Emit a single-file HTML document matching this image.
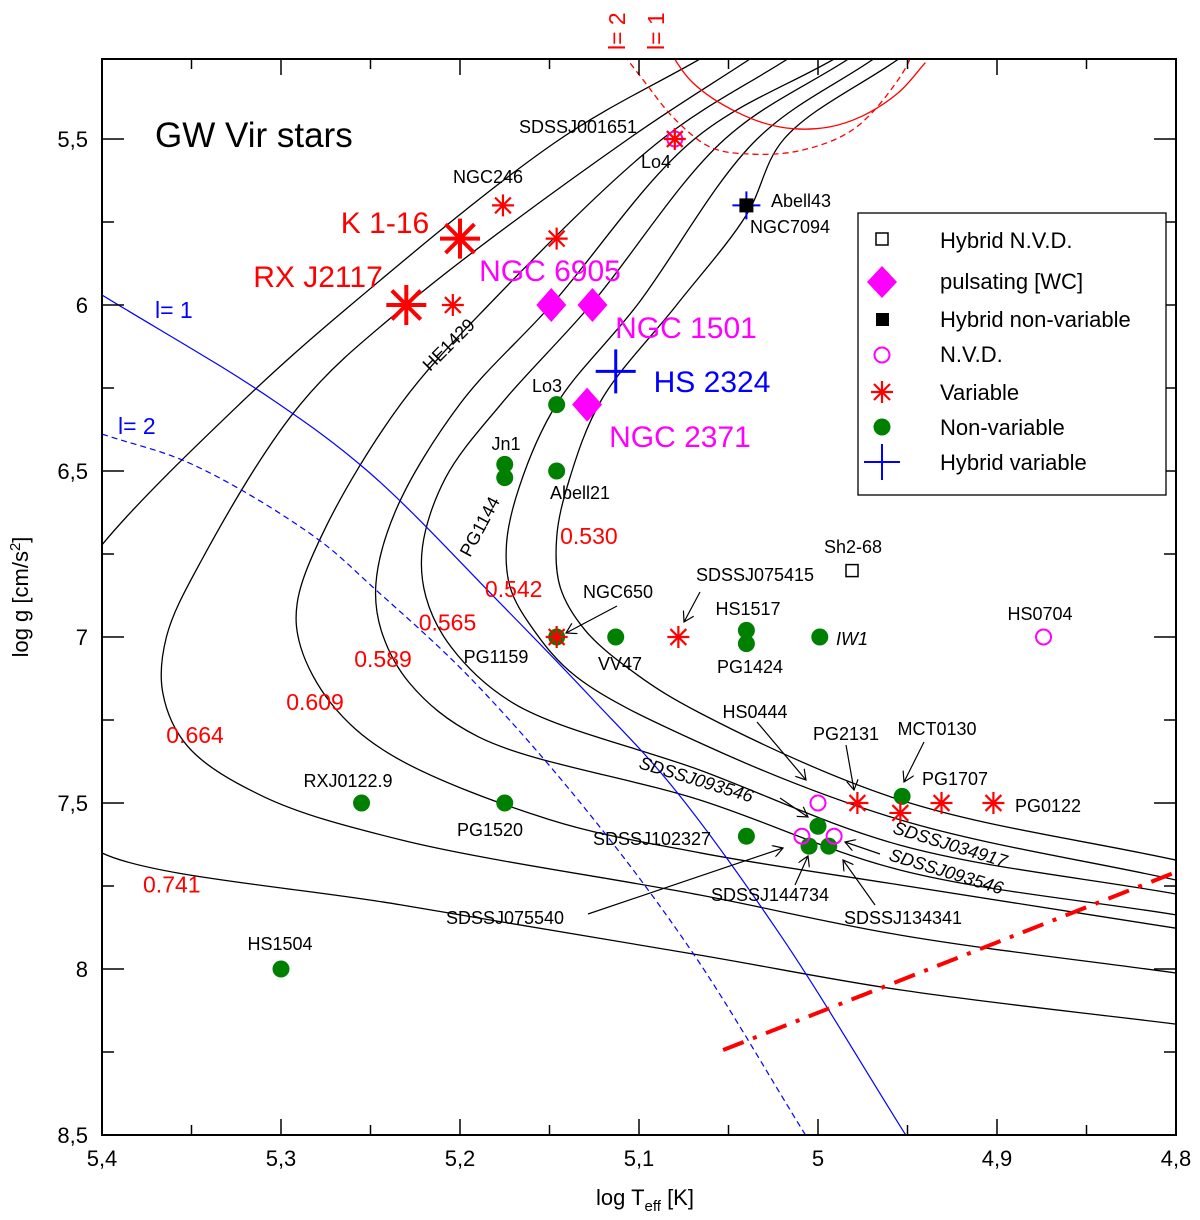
<!DOCTYPE html>
<html><head><meta charset="utf-8"><style>
html,body{margin:0;padding:0;background:#fff;}
svg{display:block;font-family:"Liberation Sans",Arial,sans-serif;}
</style></head><body>
<svg id="chart" width="1200" height="1220" viewBox="0 0 1200 1220" xmlns="http://www.w3.org/2000/svg">
<defs>
<clipPath id="plotclip"><rect x="102" y="59" width="1074" height="1076"/></clipPath>
</defs>
<g id="tracks" clip-path="url(#plotclip)"></g>
<g id="marks"></g>
<g id="axes"></g>
</svg>
<script>
// ---- data ----
const xTicks = [5.4, 5.3, 5.2, 5.1, 5.0, 4.9, 4.8];
const xTickLabels = ["5,4", "5,3", "5,2", "5,1", "5", "4,9", "4,8"];
const yTicks = [5.5, 6.0, 6.5, 7.0, 7.5, 8.0, 8.5];
const yTickLabels = ["5,5", "6", "6,5", "7", "7,5", "8", "8,5"];

const trackMasses = ["0.530", "0.542", "0.565", "0.589", "0.609", "0.664", "0.741"];
const track530 = [[4.955,5.259],[5.019,5.5],[5.040,5.729],[5.079,6.0],[5.121,6.286],[5.139,6.527],[5.146,6.70],[5.144,6.85],[5.130,6.98],[5.101,7.114],[5.066,7.229],[4.954,7.491],[4.8,7.672]];
const track542 = [[4.969,5.259],[5.034,5.5],[5.101,6.0],[5.146,6.298],[5.167,6.55],[5.174,6.72],[5.172,6.85],[5.160,6.97],[5.135,7.12],[5.066,7.319],[4.954,7.551],[4.8,7.732]];
const track565 = [[4.983,5.259],[5.052,5.5],[5.127,6.0],[5.177,6.298],[5.208,6.52],[5.221,6.73],[5.219,6.88],[5.205,7.03],[5.17,7.2],[5.066,7.401],[4.954,7.627],[4.8,7.774]];
const track589 = [[4.991,5.259],[5.069,5.5],[5.149,6.0],[5.200,6.298],[5.236,6.62],[5.247,6.84],[5.244,6.98],[5.228,7.14],[5.19,7.3],[5.066,7.491],[4.954,7.702],[4.8,7.837]];
const track609 = [[5.017,5.259],[5.087,5.5],[5.184,6.0],[5.233,6.298],[5.276,6.68],[5.291,6.90],[5.289,7.03],[5.272,7.20],[5.24,7.35],[5.15,7.55],[5.066,7.65],[4.954,7.747],[4.8,7.877]];
const track664 = [[5.038,5.259],[5.106,5.5],[5.230,6.0],[5.289,6.298],[5.344,6.765],[5.364,7.0],[5.366,7.17],[5.352,7.33],[5.31,7.48],[5.233,7.611],[5.066,7.777],[4.954,7.898],[4.8,8.012]];
const track741 = [[5.066,5.259],[5.144,5.5],[5.261,6.0],[5.323,6.298],[5.401,6.729],[5.435,7.0],[5.44,7.3],[5.42,7.55],[5.401,7.648],[5.233,7.807],[5.066,7.958],[4.954,8.063],[4.8,8.166]];
const trackLabelPos = [[5.128,6.72],[5.17,6.88],[5.207,6.98],[5.243,7.09],[5.281,7.22],[5.348,7.32],[5.361,7.77]];

const blueL1 = [[5.4,5.970],[5.307,6.277],[5.251,6.503],[5.176,6.907],[5.127,7.181],[5.082,7.446],[5.021,7.898],[4.951,8.5]];
const blueL2 = [[5.4,6.389],[5.350,6.479],[5.281,6.699],[5.247,6.858],[5.196,7.114],[5.134,7.491],[5.071,7.943],[5.007,8.5]];
const redL1 = [[5.085,5.22],[5.07,5.33],[5.045,5.42],[5.02,5.465],[4.995,5.465],[4.975,5.43],[4.955,5.36],[4.94,5.27]];
const redL2 = [[5.115,5.2],[5.098,5.32],[5.08,5.44],[5.06,5.525],[5.04,5.545],[5.01,5.535],[4.98,5.47],[4.955,5.32],[4.945,5.22]];
const blueEdge = [[5.053,8.244],[4.8,7.708]];

const variableT = [5.176, 5.146, 5.204, 5.146, 5.078, 4.978, 4.954, 4.931, 4.902, 5.08];
const variableG = [5.70, 5.80, 6.00, 7.00, 7.00, 7.50, 7.53, 7.50, 7.50, 5.50];
const bigVarT = [5.200, 5.230];
const bigVarG = [5.80, 6.00];
const wcT = [5.149, 5.126, 5.129];
const wcG = [6.00, 6.00, 6.30];
const hybVarT = [5.113];
const hybVarG = [6.20];
const hybNonT = [5.04];
const hybNonG = [5.70];
const nonVarT = [5.146, 5.175, 5.175, 5.146, 5.146, 5.113, 5.040, 5.040, 4.999, 5.255, 5.175, 5.300, 5.040, 5.000, 5.005, 4.994, 4.953];
const nonVarG = [6.30, 6.48, 6.52, 6.50, 7.00, 7.00, 6.98, 7.02, 7.00, 7.50, 7.50, 8.00, 7.60, 7.57, 7.63, 7.63, 7.48];
const nvdT = [5.08, 5.000, 5.009, 4.991, 4.874];
const nvdG = [5.50, 7.50, 7.60, 7.60, 7.00];
const hybNvdT = [4.981];
const hybNvdG = [6.80];

// ---- scales ----
const X0 = 102, X1 = 1176, Y0 = 59, Y1 = 1135;
function xs(t){ return X0 + (5.4 - t) / 0.6 * (X1 - X0); }
function ys(g){ return 139 + (g - 5.5) * 332; }

const NS = "http://www.w3.org/2000/svg";
function mk(tag, attrs, parent){
  const e = document.createElementNS(NS, tag);
  for (const k in attrs) e.setAttribute(k, attrs[k]);
  parent.appendChild(e);
  return e;
}
function smoothPath(pts){
  const p = pts.map(d => [xs(d[0]), ys(d[1])]);
  const n = p.length;
  const ext = [[2*p[0][0]-p[1][0], 2*p[0][1]-p[1][1]]].concat(p, [[2*p[n-1][0]-p[n-2][0], 2*p[n-1][1]-p[n-2][1]]]);
  const dist = (a,b) => Math.max(Math.sqrt(Math.hypot(a[0]-b[0], a[1]-b[1])), 1e-3);
  let s = "M" + p[0][0].toFixed(1) + "," + p[0][1].toFixed(1);
  for (let i = 1; i < ext.length - 2; i++){
    const P0 = ext[i-1], P1 = ext[i], P2 = ext[i+1], P3 = ext[i+2];
    const d1 = dist(P0,P1), d2 = dist(P1,P2), d3 = dist(P2,P3);
    const b1 = [0,1].map(k => (d1*d1*P2[k] - d2*d2*P0[k] + (2*d1*d1 + 3*d1*d2 + d2*d2)*P1[k]) / (3*d1*(d1+d2)));
    const b2 = [0,1].map(k => (d3*d3*P1[k] - d2*d2*P3[k] + (2*d3*d3 + 3*d3*d2 + d2*d2)*P2[k]) / (3*d3*(d3+d2)));
    s += " C" + b1[0].toFixed(1) + "," + b1[1].toFixed(1) + " " + b2[0].toFixed(1) + "," + b2[1].toFixed(1) + " " + P2[0].toFixed(1) + "," + P2[1].toFixed(1);
  }
  return s;
}

const gT = document.getElementById("tracks");
const tracks = [track530, track542, track565, track589, track609, track664, track741];
tracks.forEach((tr, i) => {
  const p = mk("path", {d: smoothPath(tr), fill: "none", stroke: "#000", "stroke-width": 1.3}, gT);
  
  
});
let e;
e = mk("path", {d: smoothPath(blueL1), fill: "none", stroke: "#0000ff", "stroke-width": 1.2}, gT);


e = mk("path", {d: smoothPath(blueL2), fill: "none", stroke: "#0000ff", "stroke-width": 1.2, "stroke-dasharray": "6,4"}, gT);


e = mk("path", {d: smoothPath(redL1), fill: "none", stroke: "#ff0000", "stroke-width": 1.3}, gT);


e = mk("path", {d: smoothPath(redL2), fill: "none", stroke: "#ff0000", "stroke-width": 1.3, "stroke-dasharray": "6,4"}, gT);


e = mk("line", {x1: xs(blueEdge[0][0]), y1: ys(blueEdge[0][1]), x2: xs(blueEdge[1][0]), y2: ys(blueEdge[1][1]), stroke: "#ff0000", "stroke-width": 4, "stroke-dasharray": "22,10,4,10"}, gT);



trackLabelPos.forEach((p, i) => {
  const t = mk("text", {x: xs(p[0]), y: ys(p[1]), "text-anchor": "middle", "font-size": 23, fill: "#ff0000"}, gT);
  t.textContent = trackMasses[i];
  
  
});

// ---- markers ----
const gM = document.getElementById("marks");
function asterisk(x, y, r, w, parent){
  const g = mk("g", {stroke: "#ff0000", "stroke-width": w}, parent);
  mk("line", {x1: x-r, y1: y, x2: x+r, y2: y}, g);
  mk("line", {x1: x, y1: y-r, x2: x, y2: y+r}, g);
  const d = r*0.72;
  mk("line", {x1: x-d, y1: y-d, x2: x+d, y2: y+d}, g);
  mk("line", {x1: x-d, y1: y+d, x2: x+d, y2: y-d}, g);
  return g;
}
nonVarT.forEach((t, i) => {
  const c = mk("circle", {cx: xs(t), cy: ys(nonVarG[i]), r: 8.5, fill: "#008000"}, gM);
  
  
});
nvdT.forEach((t, i) => {
  const c = mk("circle", {cx: xs(t), cy: ys(nvdG[i]), r: 7.5, fill: "none", stroke: "#ff00ff", "stroke-width": 2}, gM);
  
  
});
variableT.forEach((t, i) => {
  const g = asterisk(xs(t), ys(variableG[i]), 11, 2.2, gM);
  
  
});
bigVarT.forEach((t, i) => {
  const g = asterisk(xs(t), ys(bigVarG[i]), 20, 4, gM);
  
  
});
wcT.forEach((t, i) => {
  const x = xs(t), y = ys(wcG[i]);
  const p = mk("polygon", {points: `${x},${y-17} ${x+15},${y} ${x},${y+17} ${x-15},${y}`, fill: "#ff00ff"}, gM);
  
  
});
hybNonT.forEach((t, i) => {
  const x = xs(t), y = ys(hybNonG[i]);
  const g = mk("g", {}, gM);
  mk("line", {x1: x-14, y1: y, x2: x+14, y2: y, stroke: "#0000ff", "stroke-width": 2}, g);
  mk("line", {x1: x, y1: y-14, x2: x, y2: y+14, stroke: "#0000ff", "stroke-width": 2}, g);
  mk("rect", {x: x-7, y: y-7, width: 14, height: 14, fill: "#000"}, g);
  
  
});
hybVarT.forEach((t, i) => {
  const x = xs(t), y = ys(hybVarG[i]);
  const g = mk("g", {stroke: "#0000ff", "stroke-width": 3}, gM);
  mk("line", {x1: x-20, y1: y, x2: x+20, y2: y}, g);
  mk("line", {x1: x, y1: y-22, x2: x, y2: y+22}, g);
  
  
});
hybNvdT.forEach((t, i) => {
  const x = xs(t), y = ys(hybNvdG[i]);
  const r = mk("rect", {x: x-6, y: y-6, width: 12, height: 12, fill: "none", stroke: "#000", "stroke-width": 1.5}, gM);
  
  
});

// ---- axes ----
const gA = document.getElementById("axes");
e = mk("rect", {x: X0, y: Y0, width: X1-X0, height: Y1-Y0, fill: "none", stroke: "#000", "stroke-width": 2}, gA);


for (let t = 5.4; t >= 4.79; t -= 0.05){
  const x = xs(t); const major = Math.abs(Math.round(t*10) - t*10) < 0.01;
  const L = major ? 16 : 10;
  mk("line", {x1: x, y1: Y1, x2: x, y2: Y1-L, stroke: "#000", "stroke-width": 1.5}, gA);
  mk("line", {x1: x, y1: Y0, x2: x, y2: Y0+L, stroke: "#000", "stroke-width": 1.5}, gA);
}
for (let g = 5.25; g <= 8.51; g += 0.25){
  const y = ys(g); if (y < Y0) continue;
  const major = Math.abs(g*2 - Math.round(g*2)) < 0.01;
  const L = major ? 22 : 12;
  mk("line", {x1: X0, y1: y, x2: X0+L, y2: y, stroke: "#000", "stroke-width": 1.5}, gA);
  mk("line", {x1: X1, y1: y, x2: X1-L, y2: y, stroke: "#000", "stroke-width": 1.5}, gA);
}
xTicks.forEach((t, i) => {
  const tx = mk("text", {x: xs(t), y: 1166, "text-anchor": "middle", "font-size": 22}, gA);
  tx.textContent = xTickLabels[i];
  
  
});
yTicks.forEach((g, i) => {
  const tx = mk("text", {x: 88, y: ys(g)+8, "text-anchor": "end", "font-size": 22}, gA);
  tx.textContent = yTickLabels[i];
  
  
});
</script>
<svg style="position:absolute;left:0;top:0" width="1200" height="1220" viewBox="0 0 1200 1220" xmlns="http://www.w3.org/2000/svg" font-family="Liberation Sans, Arial, sans-serif">
<defs><marker id="arr2" markerWidth="12" markerHeight="12" refX="10" refY="6" orient="auto" markerUnits="userSpaceOnUse"><path d="M0,0 L10,6 L0,12" fill="none" stroke="#000" stroke-width="1.2"/></marker></defs>
<g>
<text x="645" y="1205" text-anchor="middle" font-size="22">log T<tspan font-size="15" dy="6">eff</tspan><tspan dy="-6"> [K]</tspan></text>
<text transform="translate(28,597) rotate(-90)" text-anchor="middle" font-size="22">log g [cm/s<tspan font-size="15" dy="-8">2</tspan><tspan dy="8">]</tspan></text>
<text x="155" y="147" font-size="35">GW Vir stars</text>
<text transform="translate(625,50) rotate(-90)" font-size="23" fill="#ff0000">l= 2</text>
<text transform="translate(664,50) rotate(-90)" font-size="23" fill="#ff0000">l= 1</text>
<text x="155" y="318" font-size="23" fill="#0000ff">l= 1</text>
<text x="118" y="434" font-size="23" fill="#0000ff">l= 2</text>
</g>
<g font-size="18">
<text x="578" y="133" text-anchor="middle">SDSSJ001651</text>
<text x="656" y="168" text-anchor="middle">Lo4</text>
<text x="488" y="183" text-anchor="middle">NGC246</text>
<text x="385" y="233" text-anchor="middle" font-size="30" fill="#ff0000">K 1-16</text>
<text x="318" y="287" text-anchor="middle" font-size="30" fill="#ff0000">RX J2117</text>
<text x="550" y="281" text-anchor="middle" font-size="30" fill="#ff00ff">NGC 6905</text>
<text x="686" y="338" text-anchor="middle" font-size="30" fill="#ff00ff">NGC 1501</text>
<text x="712" y="392" text-anchor="middle" font-size="30" fill="#0000ff">HS 2324</text>
<text x="680" y="447" text-anchor="middle" font-size="30" fill="#ff00ff">NGC 2371</text>
<text transform="translate(430,372) rotate(-45)">HE1429</text>
<text x="771" y="207">Abell43</text>
<text x="750" y="233">NGC7094</text>
<text x="547" y="392" text-anchor="middle">Lo3</text>
<text x="506" y="450" text-anchor="middle">Jn1</text>
<text x="580" y="499" text-anchor="middle">Abell21</text>
<text transform="translate(470,558) rotate(-62)">PG1144</text>
<text x="853" y="553" text-anchor="middle">Sh2-68</text>
<text x="755" y="581" text-anchor="middle">SDSSJ075415</text>
<text x="618" y="598" text-anchor="middle">NGC650</text>
<text x="748" y="615" text-anchor="middle">HS1517</text>
<text x="1040" y="620" text-anchor="middle">HS0704</text>
<text x="496" y="663" text-anchor="middle">PG1159</text>
<text x="620" y="670" text-anchor="middle">VV47</text>
<text x="750" y="673" text-anchor="middle">PG1424</text>
<text x="836" y="645" font-style="italic">IW1</text>
<text x="755" y="718" text-anchor="middle">HS0444</text>
<text x="846" y="740" text-anchor="middle">PG2131</text>
<text x="937" y="735" text-anchor="middle">MCT0130</text>
<text x="955" y="785" text-anchor="middle">PG1707</text>
<text x="1015" y="812">PG0122</text>
<text x="348" y="787" text-anchor="middle">RXJ0122.9</text>
<text x="490" y="836" text-anchor="middle">PG1520</text>
<text transform="translate(638,768) rotate(17)" font-style="italic">SDSSJ093546</text>
<text x="652" y="845" text-anchor="middle">SDSSJ102327</text>
<text transform="translate(892,833) rotate(17)" font-style="italic">SDSSJ034917</text>
<text transform="translate(888,860) rotate(17)" font-style="italic">SDSSJ093546</text>
<text x="770" y="901" text-anchor="middle">SDSSJ144734</text>
<text x="903" y="924" text-anchor="middle">SDSSJ134341</text>
<text x="505" y="924" text-anchor="middle">SDSSJ075540</text>
<text x="280" y="950" text-anchor="middle">HS1504</text>
</g>
<g stroke="#000" stroke-width="1.2" fill="none">
<line x1="617" y1="606" x2="566" y2="633" marker-end="url(#arr2)"/>
<line x1="700" y1="592" x2="684" y2="622" marker-end="url(#arr2)"/>
<line x1="757" y1="722" x2="806" y2="780" marker-end="url(#arr2)"/>
<line x1="846" y1="745" x2="854" y2="790" marker-end="url(#arr2)"/>
<line x1="924" y1="742" x2="904" y2="782" marker-end="url(#arr2)"/>
<line x1="780" y1="798" x2="808" y2="817" marker-end="url(#arr2)"/>
<line x1="880" y1="854" x2="845" y2="842" marker-end="url(#arr2)"/>
<line x1="795" y1="885" x2="808" y2="856" marker-end="url(#arr2)"/>
<line x1="875" y1="905" x2="843" y2="860" marker-end="url(#arr2)"/>
<line x1="588" y1="914" x2="783" y2="848" marker-end="url(#arr2)"/>
</g>
<g>
<rect x="858" y="213" width="308" height="282" fill="#fff" stroke="#000" stroke-width="1.3"/>
<g><rect x="876" y="233" width="12" height="12" fill="none" stroke="#000" stroke-width="1.5"/><text x="940" y="248" font-size="22">Hybrid N.V.D.</text></g>
<g><polygon points="882,266 897,282 882,298 867,282" fill="#ff00ff"/><text x="940" y="289" font-size="22">pulsating [WC]</text></g>
<g><rect x="876" y="313" width="13" height="13" fill="#000"/><text x="940" y="327" font-size="22">Hybrid non-variable</text></g>
<g><circle cx="882" cy="355" r="7.5" fill="none" stroke="#ff00ff" stroke-width="2"/><text x="940" y="362" font-size="22">N.V.D.</text></g>
<g stroke="#ff0000" stroke-width="2.2"><line x1="871" y1="392" x2="893" y2="392"/><line x1="882" y1="381" x2="882" y2="403"/><line x1="874" y1="384" x2="890" y2="400"/><line x1="874" y1="400" x2="890" y2="384"/><text x="940" y="400" font-size="22" stroke="none" fill="#000">Variable</text></g>
<g><circle cx="882" cy="427" r="8.5" fill="#008000"/><text x="940" y="435" font-size="22">Non-variable</text></g>
<g><line x1="864" y1="462" x2="900" y2="462" stroke="#0000ff" stroke-width="2"/><line x1="882" y1="444" x2="882" y2="480" stroke="#0000ff" stroke-width="2"/><text x="940" y="470" font-size="22">Hybrid variable</text></g>
</g>
</svg>
</body></html>
